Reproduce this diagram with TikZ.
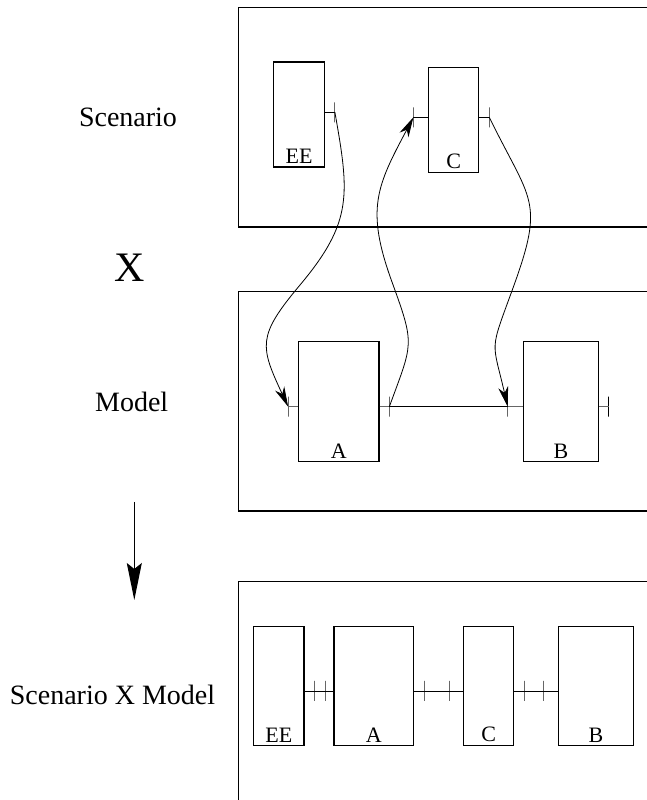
\documentclass[tikz,border=0pt]{standalone}
\usepackage{fontspec}
\setmainfont{Liberation Serif}
\usetikzlibrary{arrows.meta,positioning}

\begin{document}
\begin{tikzpicture}[x=1pt,y=1pt,
  frame/.style={draw,line width=1.3pt},
  box/.style={rectangle,draw=black,line width=1.2pt,inner sep=0pt,minimum height=105pt},
  boxlabel/.style={anchor=south,inner sep=4pt,font=\fontsize{22}{22}\selectfont},
  tickmark/.style={rectangle,draw=black!60,line width=0.9pt,minimum width=0pt,minimum height=20pt,inner sep=0pt},
  stub/.style={line width=0.9pt},
  link/.style={line width=0.8pt,-{Stealth[length=20pt,width=10pt,inset=6pt]}},
  side/.style={anchor=base,font=\fontsize{28}{28}\selectfont}]
  \clip (0,0) rectangle (647,800);

  % left column
  \node[side] (scen) at (128,673.3) {Scenario};
  \node[font=\fontsize{42}{42}\selectfont] (times) at (129.5,532.5) {X};
  \node[side] (model) at (131.7,388.3) {Model};
  \node[side] (prod) at (112.5,95) {Scenario X Model};
  \coordinate (arrtop) at (134.3,298);
  \coordinate (arrbot) at (134.3,200);
    \draw[line width=1pt,-{Stealth[length=37pt,width=15pt,inset=6pt]}] (arrtop) -- (arrbot);

  % scenario
  \draw[frame] (238.3,573) rectangle (660,792.5);
  \node[box,minimum width=50.6pt,label={[boxlabel]south:EE}] (ee) at (299,685.5) {};
  \node[box,minimum width=50pt,label={[boxlabel]south:C}] (c) at (453.7,680.2) {};
  \node[tickmark] (eeP) at ([xshift=10pt,yshift=2.2pt]ee.east) {};
  \node[tickmark] (cL) at ([xshift=-14.7pt,yshift=2.5pt]c.west) {};
  \node[tickmark] (cR) at ([xshift=10pt,yshift=2.5pt]c.east) {};
    \draw[stub] (ee.east |- eeP) -- (eeP.center);
    \draw[stub] (c.west |- cL) -- (cL.center);
    \draw[stub] (c.east |- cR) -- (cR.center);

  % model
  \draw[frame] (238.3,289) rectangle (660,508.3);
  \node[box,minimum width=80.3pt,minimum height=120pt,label={[boxlabel]south:A}] (a) at (338.9,398.3) {};
  \node[box,minimum width=75.4pt,minimum height=120pt,label={[boxlabel]south:B}] (b) at (561,398.3) {};
  \node[tickmark] (aL) at ([xshift=-10pt,yshift=-5pt]a.west) {};
  \node[tickmark] (aR) at ([xshift=9.7pt,yshift=-5pt]a.east) {};
  \node[tickmark] (bL) at ([xshift=-15pt,yshift=-5pt]b.west) {};
  \node[tickmark,draw=black] (bR) at ([xshift=9.6pt,yshift=-5pt]b.east) {};
    \draw[stub,draw=black!60] (a.west |- aL) -- (aL.center);
    \draw[stub,draw=black!60] (a.east |- aR) -- (aR.center);
    \draw[stub,draw=black!60] (b.west |- bL) -- (bL.center);
    \draw[stub,draw=black!60] (b.east |- bR) -- (bR.center);
    \draw[line width=1.3pt] (aR.center) -- (bL.center);

  % scenario x model mapping
  \coordinate (m1) at (300,515);
  \coordinate (m2) at (392,518);
  \coordinate (m3) at (513,512);
    \draw[link] (eeP.center) to[out=-80,in=50,looseness=1.2] (m1) to[out=230,in=115,looseness=1.4] (aL.center);
    \draw[link] (aR.center) to[out=70,in=290,looseness=1.4] (m2) to[out=110,in=242,looseness=1.2] (cL.center);
    \draw[link] (cR.center) to[out=-64,in=70,looseness=1.4] (m3) to[out=250,in=103,looseness=1.5] (bL.center);

  % product
  \draw[frame] (238.3,-20) rectangle (660,218.3);
  \node[box,minimum width=50.3pt,minimum height=119pt,label={[boxlabel]south:EE}] (ee2) at (278.9,113.7) {};
  \node[box,minimum width=79.7pt,minimum height=119pt,label={[boxlabel]south:A}] (a2) at (373.9,113.7) {};
  \node[box,minimum width=50pt,minimum height=119pt,label={[boxlabel]south:C}] (c2) at (488.7,113.7) {};
  \node[box,minimum width=74.6pt,minimum height=119pt,label={[boxlabel]south:B}] (b2) at (596,113.7) {};
  \node[tickmark] (t1) at ([xshift=9.3pt,yshift=-4.7pt]ee2.east) {};
  \node[tickmark] (t2) at ([xshift=20.3pt,yshift=-4.7pt]ee2.east) {};
  \node[tickmark] (t3) at ([xshift=10pt,yshift=-4.7pt]a2.east) {};
  \node[tickmark] (t4) at ([xshift=35.3pt,yshift=-4.7pt]a2.east) {};
  \node[tickmark] (t5) at ([xshift=10pt,yshift=-4.7pt]c2.east) {};
  \node[tickmark] (t6) at ([xshift=29.6pt,yshift=-4.7pt]c2.east) {};
    \draw[stub] (ee2.east |- t1) -- (a2.west |- t2);
    \draw[stub] (a2.east |- t3) -- (c2.west |- t4);
    \draw[stub] (c2.east |- t5) -- (b2.west |- t6);

\end{tikzpicture}
\end{document}
